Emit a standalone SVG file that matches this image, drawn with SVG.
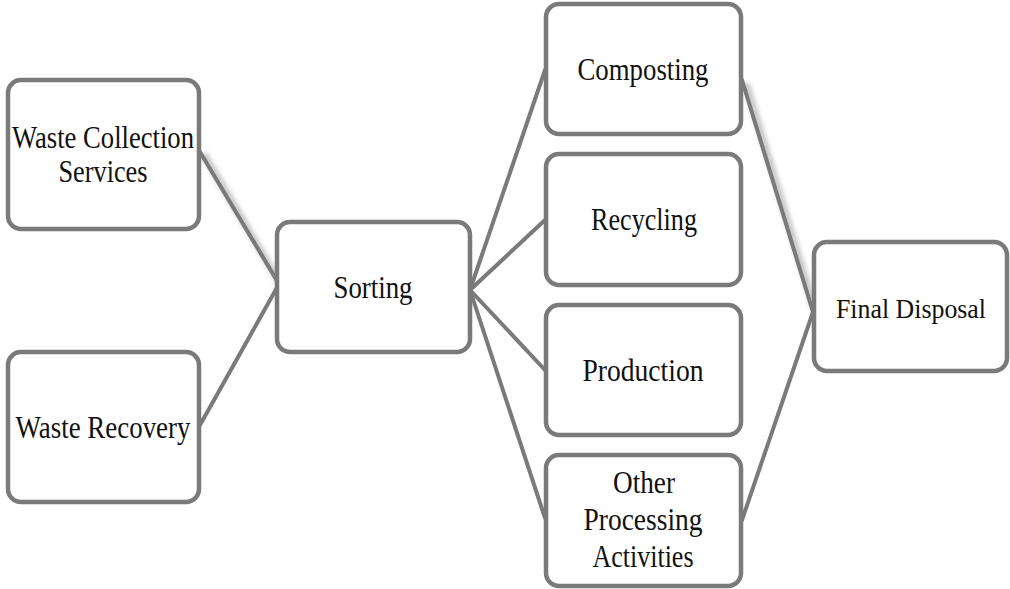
<svg xmlns="http://www.w3.org/2000/svg" width="1010" height="589" viewBox="0 0 1010 589">
<defs>
<style>
.box{fill:#ffffff;stroke:#7a7a7a;stroke-width:4.5}
.lbl{font-family:"Liberation Serif","DejaVu Serif",serif;font-size:31px;fill:#111111;text-anchor:middle}
.ln{stroke:#7a7a7a;stroke-width:4;fill:none;stroke-linecap:round}
.sh{stroke:#c8c8c8;stroke-width:7;fill:none;filter:url(#blur)}
</style>
<filter id="blur" x="-20%" y="-20%" width="140%" height="140%"><feGaussianBlur stdDeviation="2"/></filter>
</defs>
<rect width="1010" height="589" fill="#ffffff"/>
<g id="connectors">
<line class="sh" x1="204" y1="154" x2="284" y2="290"/>
<line class="sh" x1="746" y1="83" x2="818" y2="320"/>
<line class="ln" x1="200" y1="152" x2="279" y2="284"/>
<line class="ln" x1="200" y1="425" x2="279" y2="284"/>
<line class="ln" x1="470" y1="290" x2="545" y2="70"/>
<line class="ln" x1="470" y1="290" x2="545" y2="220"/>
<line class="ln" x1="470" y1="290" x2="545" y2="370"/>
<line class="ln" x1="470" y1="290" x2="545" y2="518"/>
<line class="ln" x1="742" y1="80" x2="813" y2="312"/>
<line class="ln" x1="742" y1="520" x2="813" y2="312"/>
</g>
<g id="waste-collection">
<rect class="box" x="8" y="80" width="191" height="149" rx="13"/>
<text class="lbl" x="103" y="148" textLength="182" lengthAdjust="spacingAndGlyphs">Waste Collection</text>
<text class="lbl" x="103" y="182" textLength="89" lengthAdjust="spacingAndGlyphs">Services</text>
</g>
<g id="waste-recovery">
<rect class="box" x="8" y="352" width="191" height="150" rx="13"/>
<text class="lbl" x="103" y="438" textLength="175" lengthAdjust="spacingAndGlyphs">Waste Recovery</text>
</g>
<g id="sorting">
<rect class="box" x="277" y="222" width="193" height="130" rx="13"/>
<text class="lbl" x="373" y="298" textLength="79" lengthAdjust="spacingAndGlyphs">Sorting</text>
</g>
<g id="composting">
<rect class="box" x="546" y="4" width="195" height="130" rx="13"/>
<text class="lbl" x="643" y="80" textLength="131" lengthAdjust="spacingAndGlyphs">Composting</text>
</g>
<g id="recycling">
<rect class="box" x="546" y="154" width="195" height="131" rx="13"/>
<text class="lbl" x="644" y="230" textLength="106" lengthAdjust="spacingAndGlyphs">Recycling</text>
</g>
<g id="production">
<rect class="box" x="546" y="305" width="195" height="130" rx="13"/>
<text class="lbl" x="643" y="381" textLength="121" lengthAdjust="spacingAndGlyphs">Production</text>
</g>
<g id="other-processing">
<rect class="box" x="546" y="455" width="195" height="131" rx="13"/>
<text class="lbl" x="644" y="493" textLength="62" lengthAdjust="spacingAndGlyphs">Other</text>
<text class="lbl" x="643" y="530" textLength="119" lengthAdjust="spacingAndGlyphs">Processing</text>
<text class="lbl" x="643" y="567" textLength="101" lengthAdjust="spacingAndGlyphs">Activities</text>
</g>
<g id="final-disposal">
<rect class="box" x="814" y="242" width="193" height="129" rx="13"/>
<text class="lbl" x="911" y="318" style="font-size:28px" textLength="150" lengthAdjust="spacingAndGlyphs">Final Disposal</text>
</g>
</svg>
